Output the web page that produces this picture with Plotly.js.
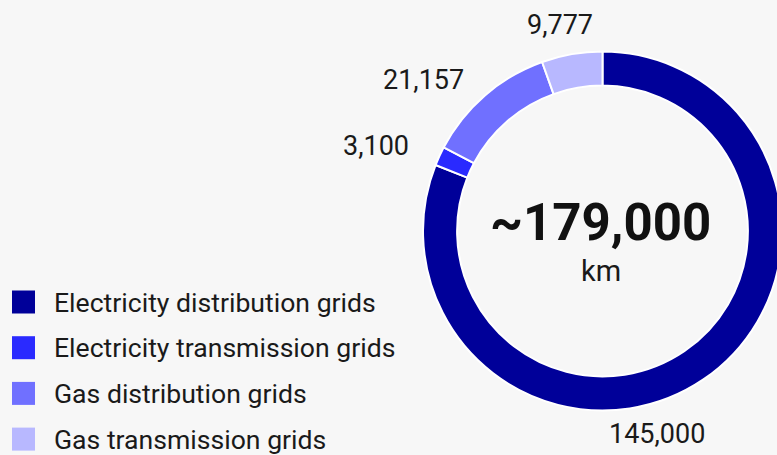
<!DOCTYPE html>
<html><head><meta charset="utf-8">
<script src="https://cdn.plot.ly/plotly-3.0.1.min.js"></script>
<style>html,body{margin:0;padding:0;overflow:hidden;background:#f7f7f7;width:777px;height:455px}#c{width:790px;height:455px}</style>
</head><body><div id="c"></div>
<script>
const labels = ["Electricity distribution grids","Electricity transmission grids","Gas distribution grids","Gas transmission grids"];
const values = [145000, 3100, 21157, 9777];
const colors = ["#000099","#2a2aff","#7070ff","#b8b8ff"];
const totalText = "~179,000";
const unitText = "km";

const W = 790, H = 455;
const px = x => x / W, py = y => 1 - y / H;
const cx = 602.5, cy = 231, R = 179.5;
const labelFont = {family: "Roboto", size: 27, color: "#1a1a1a"};
// per-label pixel nudges (style only), applied on top of the data-derived mid-angle position
const labelShiftX = [-72, -24, -32, -7];
const labelShiftY = [-17, -8, -18, 3];

const trace = {
  type: "pie", labels: labels, values: values, sort: false, direction: "clockwise", rotation: 0,
  hole: 0.81,
  marker: {colors: colors, line: {color: "#ffffff", width: 2}},
  textinfo: "none",
  showlegend: false, hoverinfo: "label+value",
  domain: {x: [px(cx - R), px(cx + R)], y: [py(cy + R), py(cy - R)]}
};

const shapes = [], annotations = [];

const total = values.reduce((a, b) => a + b, 0);
let cum = 0;
values.forEach((v, i) => {
  const a = (cum + v / 2) / total * 2 * Math.PI; cum += v;
  const txt = v.toLocaleString("en-US");
  const nd = txt.replace(/[^0-9]/g, "").length, nc = txt.length - nd;
  const halfW = (nd * 15.2 + nc * 5.4) / 2, halfH = 13;
  const s = Math.sin(a), c = Math.cos(a);
  const D = R + 8 + Math.abs(s) * halfW + Math.abs(c) * halfH;
  annotations.push({xref: "paper", yref: "paper", x: px(cx + D * s), y: py(cy - D * c),
    xanchor: "center", yanchor: "middle", xshift: labelShiftX[i], yshift: labelShiftY[i],
    showarrow: false, text: txt, font: labelFont});
});

labels.forEach((lab, i) => {
  const yc = 302 + i * 45.7;
  shapes.push({type: "rect", xref: "paper", yref: "paper", x0: px(12), x1: px(35), y0: py(yc + 11.5), y1: py(yc - 11.5), fillcolor: colors[i], line: {width: 0}});
  annotations.push({xref: "paper", yref: "paper", x: px(52), y: py(yc), xanchor: "left", yanchor: "middle", showarrow: false, text: lab, font: {family: "Roboto", size: 26.6, color: "#1a1a1a"}});
});
annotations.push({xref: "paper", yref: "paper", x: px(cx - 2), y: py(222), xanchor: "center", yanchor: "middle", showarrow: false, text: "<b>" + totalText + "</b>", font: {family: "Roboto", size: 51, color: "#111111"}});
annotations.push({xref: "paper", yref: "paper", x: px(cx - 2), y: py(271), xanchor: "center", yanchor: "middle", showarrow: false, text: unitText, font: {family: "Roboto", size: 29, color: "#1a1a1a"}});

Plotly.newPlot("c", [trace], {
  width: W, height: H, margin: {l: 0, r: 0, t: 0, b: 0},
  paper_bgcolor: "#f7f7f7", plot_bgcolor: "#f7f7f7",
  shapes: shapes, annotations: annotations
}, {displayModeBar: false, staticPlot: true});
</script></body></html>
